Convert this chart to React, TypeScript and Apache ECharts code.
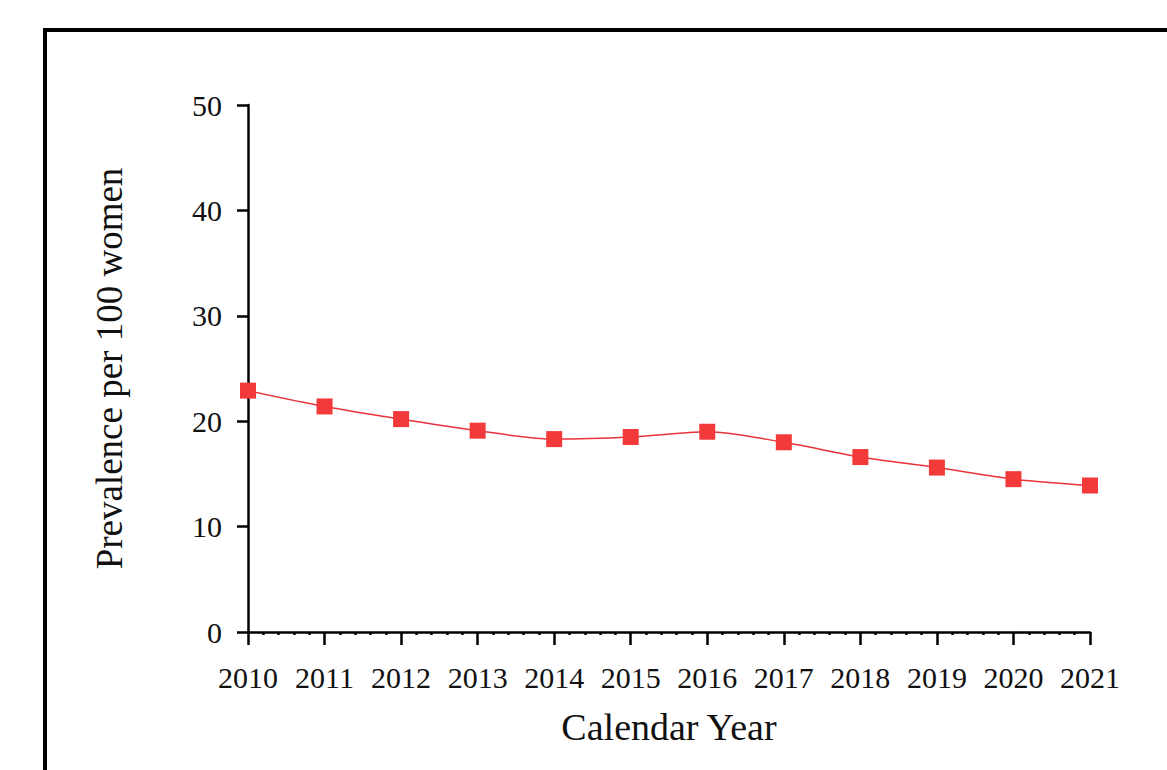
import React, { useEffect, useRef } from "react";
import * as echarts from "echarts";

const years = [2010, 2011, 2012, 2013, 2014, 2015, 2016, 2017, 2018, 2019, 2020, 2021];
const prevalence = [22.9, 21.4, 20.2, 19.1, 18.3, 18.5, 19.0, 18.0, 16.6, 15.6, 14.5, 13.9];
const yTicks = [0, 10, 20, 30, 40, 50];

const FONT = "'Liberation Serif', 'DejaVu Serif', serif";

export default function App() {
  const ref = useRef<HTMLDivElement>(null);
  useEffect(() => {
    if (!ref.current) return;
    const chart = echarts.init(ref.current, null, { renderer: "svg" });
    chart.setOption({
      animation: false,
      backgroundColor: "#ffffff",
      graphic: [
        {
          type: "rect",
          shape: { x: 45, y: 30, width: 1200, height: 800 },
          style: { fill: "none", stroke: "#000", lineWidth: 4 },
          silent: true,
        },
      ],
      grid: { left: 248, right: 77, top: 105, bottom: 138 },
      xAxis: {
        type: "value",
        min: years[0],
        max: years[years.length - 1],
        interval: 1,
        name: "Calendar Year",
        nameLocation: "middle",
        nameGap: 76,
        nameTextStyle: { fontFamily: FONT, fontSize: 38, color: "#111" },
        axisLine: { show: true, onZero: false, lineStyle: { color: "#000", width: 2.5 } },
        axisTick: { show: true, inside: false, length: 13, lineStyle: { color: "#000", width: 2.5 } },
        minorTick: { show: true, splitNumber: 5, length: 3, lineStyle: { color: "#000", width: 2.5 } },
        splitLine: { show: false },
        axisLabel: {
          fontFamily: FONT,
          fontSize: 30,
          color: "#111",
          margin: 30,
          formatter: (v: number) => String(v),
        },
      },
      yAxis: {
        type: "value",
        min: yTicks[0],
        max: yTicks[yTicks.length - 1],
        interval: 10,
        name: "Prevalence per 100 women",
        nameLocation: "middle",
        nameGap: 120,
        nameRotate: 90,
        nameTextStyle: { fontFamily: FONT, fontSize: 37, color: "#111" },
        axisLine: { show: true, lineStyle: { color: "#000", width: 2.5 } },
        axisTick: { show: true, inside: false, length: 11, lineStyle: { color: "#000", width: 2.5 } },
        splitLine: { show: false },
        axisLabel: { fontFamily: FONT, fontSize: 30, color: "#111", margin: 26 },
      },
      series: [
        {
          type: "line",
          data: years.map((y, i) => [y, prevalence[i]]),
          smooth: 0.3,
          symbol: "rect",
          symbolSize: 16,
          lineStyle: { color: "#e8333a", width: 1.5 },
          itemStyle: { color: "#f23a3a" },
        },
      ],
    });
    return () => chart.dispose();
  }, []);
  return <div ref={ref} style={{ width: 1167, height: 770, position: "absolute", left: 0, top: 0 }} />;
}
